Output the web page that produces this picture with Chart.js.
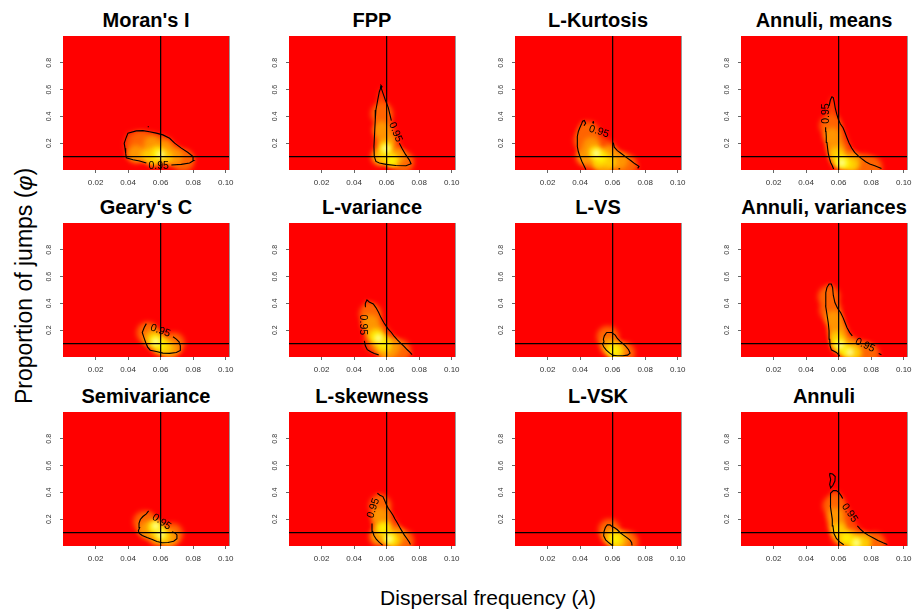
<!DOCTYPE html>
<html><head><meta charset="utf-8">
<script src="https://cdn.jsdelivr.net/npm/chart.js@4.4.0/dist/chart.umd.min.js"></script>
<style>
html,body{margin:0;padding:0;background:#fff;}
body{width:915px;height:616px;position:relative;overflow:hidden;font-family:"Liberation Sans",Arial,Helvetica,sans-serif;color:#000;}
canvas{position:absolute;}
.ttl{position:absolute;font-weight:bold;font-size:20px;line-height:20px;white-space:nowrap;transform:translateX(-50%);}
#ylab{position:absolute;left:24px;top:286px;transform:translate(-50%,-50%) rotate(-90deg);font-size:23px;line-height:26px;white-space:nowrap;}
#xlab{position:absolute;left:488px;top:598px;transform:translate(-50%,-50%);font-size:21px;line-height:26px;white-space:nowrap;}
</style></head><body>
<div id="ylab">Proportion of jumps (<i>φ</i>)</div>
<div id="xlab">Dispersal frequency (<i>λ</i>)</div>
<script>
// ---------- data ----------
const TITLES = ["Moran's I","FPP","L-Kurtosis","Annuli, means","Geary's C","L-variance","L-VS","Annuli, variances","Semivariance","L-skewness","L-VSK","Annuli"];
const X_TICKS = [0.02,0.04,0.06,0.08,0.10];
const Y_TICKS = [0.2,0.4,0.6,0.8];
const X_RANGE = [0,0.102];
const Y_RANGE = [0,1];
const TRUE_LAMBDA = 0.06;
const TRUE_PHI = 0.1;
const CONTOUR_LEVEL = "0.95";

// contour segments [x, y] (0.95 level), label anchors [x, y], heat spots [x, y, level]
const MORAN_CONTOUR = [[[0.0666,0.037],[0.0727,0.042],[0.0778,0.052],[0.0803,0.071],[0.0799,0.101],[0.0768,0.131],[0.0727,0.163],[0.0686,0.200],[0.0655,0.237],[0.0614,0.262],[0.0573,0.275],[0.0532,0.285],[0.0491,0.294],[0.0450,0.292],[0.0399,0.275],[0.0389,0.245],[0.0376,0.200],[0.0381,0.163],[0.0385,0.126],[0.0389,0.091],[0.0430,0.076],[0.0471,0.067],[0.0512,0.052]]];
const MORAN_EXTRA = [[[0.0521,0.322],[0.0527,0.324]]];
const MORAN_LABEL = [0.0588,0.031];
const MORAN_HEAT = [[0.048,0.20,1],[0.045,0.12,2],[0.055,0.19,2],[0.068,0.10,2],[0.062,0.16,2],[0.074,0.07,1],[0.052,0.11,3],[0.058,0.13,3],[0.063,0.10,3],[0.056,0.08,3],[0.058,0.12,4],[0.060,0.115,5]];

const FPP_CONTOUR = [[[0.0629,0.369],[0.0610,0.466],[0.0592,0.522],[0.0580,0.564],[0.0571,0.596],[0.0565,0.617],[0.0555,0.584],[0.0545,0.522],[0.0534,0.448],[0.0530,0.374],[0.0526,0.275],[0.0522,0.175],[0.0524,0.101],[0.0534,0.064],[0.0555,0.052],[0.0596,0.042],[0.0657,0.034],[0.0719,0.032],[0.0750,0.047],[0.0739,0.076],[0.0715,0.118],[0.0694,0.163],[0.0678,0.200]]];
const FPP_EXTRA = [[[0.0560,0.620],[0.0565,0.632],[0.0572,0.622],[0.0566,0.612],[0.0560,0.620]]];
const FPP_LABEL = [0.0655,0.282];
const FPP_HEAT = [[0.057,0.42,1],[0.057,0.30,2],[0.060,0.22,2],[0.066,0.10,2],[0.056,0.10,2],[0.070,0.06,1],[0.0595,0.17,3],[0.063,0.08,3],[0.058,0.10,3],[0.0595,0.15,4],[0.063,0.07,4],[0.0595,0.16,5]];

const KURT_CONTOUR = [
 [[0.0436,0.002],[0.0424,0.032],[0.0411,0.064],[0.0399,0.101],[0.0389,0.138],[0.0383,0.175],[0.0385,0.213],[0.0381,0.250],[0.0389,0.287],[0.0399,0.317],[0.0409,0.344],[0.0415,0.364],[0.0426,0.369],[0.0434,0.349],[0.0424,0.330]],
 [[0.0604,0.205],[0.0610,0.170],[0.0629,0.145],[0.0655,0.121],[0.0682,0.096],[0.0711,0.071],[0.0737,0.046],[0.0762,0.027],[0.0754,0.012]]];
const KURT_EXTRA = [[[0.0476,0.355],[0.0486,0.355]],[[0.0481,0.345],[0.0481,0.365]],[[0.0636,0.009],[0.0646,0.009]]];
const KURT_LABEL = [0.0516,0.287];
const KURT_HEAT = [[0.043,0.22,1],[0.045,0.28,1],[0.047,0.18,2],[0.043,0.10,2],[0.058,0.12,2],[0.064,0.07,2],[0.068,0.04,1],[0.055,0.03,2],[0.049,0.13,3],[0.054,0.10,3],[0.051,0.06,3],[0.058,0.06,3],[0.050,0.12,4],[0.053,0.09,4],[0.050,0.125,5]];

const AMEANS_CONTOUR = [
 [[0.0569,0.007],[0.0561,0.032],[0.0551,0.056],[0.0543,0.088],[0.0536,0.126],[0.0532,0.163],[0.0528,0.205],[0.0524,0.250],[0.0522,0.287],[0.0520,0.319]],
 [[0.0541,0.477],[0.0549,0.522],[0.0559,0.546],[0.0567,0.541],[0.0573,0.506],[0.0579,0.464],[0.0588,0.419],[0.0598,0.379],[0.0610,0.345],[0.0627,0.315],[0.0639,0.280],[0.0651,0.241],[0.0664,0.201],[0.0680,0.164],[0.0698,0.132],[0.0719,0.107],[0.0739,0.087],[0.0766,0.062],[0.0791,0.045],[0.0822,0.031],[0.0848,0.019],[0.0863,0.012]]];
const AMEANS_EXTRA = [];
const AMEANS_LABEL = [0.0526,0.421];
const AMEANS_HEAT = [[0.055,0.33,1],[0.056,0.25,2],[0.058,0.17,2],[0.060,0.10,2],[0.068,0.07,2],[0.075,0.04,1],[0.080,0.02,1],[0.059,0.12,3],[0.062,0.06,3],[0.068,0.04,3],[0.061,0.07,4],[0.064,0.05,4],[0.062,0.055,5]];

const GEARY_CONTOUR = [[[0.0676,0.151],[0.0696,0.133],[0.0713,0.113],[0.0721,0.083],[0.0721,0.049],[0.0696,0.034],[0.0655,0.027],[0.0614,0.029],[0.0573,0.041],[0.0536,0.051],[0.0520,0.074],[0.0508,0.108],[0.0497,0.146],[0.0487,0.183],[0.0499,0.220],[0.0512,0.249]]];
const GEARY_EXTRA = [];
const GEARY_LABEL = [0.0598,0.195];
const GEARY_HEAT = [[0.052,0.18,1],[0.055,0.14,2],[0.060,0.08,2],[0.066,0.06,2],[0.068,0.10,1],[0.056,0.13,3],[0.060,0.10,3],[0.063,0.07,3],[0.057,0.12,4],[0.060,0.09,4],[0.057,0.115,5]];

const LVAR_CONTOUR = [
 [[0.0551,0.016],[0.0524,0.026],[0.0502,0.039],[0.0481,0.055],[0.0469,0.083],[0.0463,0.121]],
 [[0.0467,0.376],[0.0469,0.401],[0.0479,0.426],[0.0493,0.411],[0.0518,0.396],[0.0534,0.369],[0.0551,0.332],[0.0565,0.294],[0.0582,0.257],[0.0596,0.232],[0.0610,0.208],[0.0629,0.183],[0.0647,0.153],[0.0666,0.128],[0.0686,0.104],[0.0707,0.079],[0.0727,0.054],[0.0744,0.034],[0.0756,0.017]]];
const LVAR_EXTRA = [];
const LVAR_LABEL = [0.0456,0.240];
const LVAR_HEAT = [[0.050,0.32,1],[0.050,0.25,2],[0.053,0.18,2],[0.056,0.10,2],[0.063,0.08,2],[0.068,0.05,1],[0.060,0.04,2],[0.053,0.16,3],[0.057,0.12,3],[0.059,0.08,3],[0.054,0.15,4],[0.058,0.10,4],[0.055,0.14,5]];

const LVS_CONTOUR = [[[0.0563,0.183],[0.0594,0.183],[0.0616,0.163],[0.0629,0.138],[0.0645,0.118],[0.0662,0.101],[0.0680,0.081],[0.0698,0.054],[0.0707,0.029],[0.0692,0.014],[0.0662,0.009],[0.0629,0.009],[0.0604,0.012],[0.0582,0.029],[0.0561,0.051],[0.0545,0.076],[0.0538,0.096],[0.0547,0.113],[0.0543,0.133],[0.0549,0.158],[0.0563,0.183]]];
const LVS_EXTRA = [];
const LVS_LABEL = null;
const LVS_HEAT = [[0.057,0.15,1],[0.058,0.08,2],[0.063,0.05,2],[0.067,0.03,1],[0.060,0.06,3],[0.062,0.04,3],[0.061,0.05,4]];

const AVAR_CONTOUR = [
 [[0.0606,0.009],[0.0586,0.034],[0.0555,0.054],[0.0547,0.084],[0.0545,0.133],[0.0541,0.195],[0.0536,0.257],[0.0528,0.319],[0.0520,0.381],[0.0522,0.431],[0.0520,0.481],[0.0528,0.518],[0.0541,0.545],[0.0555,0.545],[0.0563,0.518],[0.0567,0.461],[0.0577,0.406],[0.0594,0.362],[0.0612,0.332],[0.0627,0.294],[0.0639,0.257],[0.0651,0.220],[0.0668,0.182],[0.0684,0.158]],
 [[0.0846,0.026],[0.0863,0.016]]];
const AVAR_EXTRA = [];
const AVAR_LABEL = [0.0762,0.088];
const AVAR_HEAT = [[0.054,0.45,1],[0.055,0.35,1],[0.057,0.28,2],[0.059,0.20,2],[0.061,0.12,2],[0.067,0.07,2],[0.074,0.04,1],[0.078,0.02,1],[0.059,0.14,3],[0.061,0.08,3],[0.066,0.04,3],[0.070,0.03,3],[0.060,0.10,4],[0.064,0.05,4],[0.061,0.09,5],[0.067,0.035,5]];

const SEMI_CONTOUR = [[[0.0670,0.106],[0.0688,0.098],[0.0700,0.083],[0.0700,0.055],[0.0680,0.036],[0.0645,0.026],[0.0610,0.024],[0.0577,0.034],[0.0549,0.049],[0.0516,0.064],[0.0487,0.079],[0.0469,0.094],[0.0463,0.113],[0.0471,0.138],[0.0467,0.170],[0.0475,0.198],[0.0491,0.220],[0.0512,0.240],[0.0526,0.262]]];
const SEMI_EXTRA = [];
const SEMI_LABEL = [0.0606,0.180];
const SEMI_HEAT = [[0.050,0.18,1],[0.052,0.12,2],[0.058,0.07,2],[0.065,0.06,2],[0.067,0.09,1],[0.056,0.14,3],[0.059,0.10,3],[0.062,0.07,3],[0.057,0.14,4],[0.060,0.09,4],[0.057,0.15,5],[0.060,0.085,5]];

const LSKEW_CONTOUR = [
 [[0.0575,0.007],[0.0555,0.027],[0.0536,0.051],[0.0522,0.079],[0.0514,0.109],[0.0510,0.138],[0.0510,0.168]],
 [[0.0543,0.394],[0.0559,0.379],[0.0577,0.369],[0.0588,0.340],[0.0598,0.310],[0.0610,0.281],[0.0625,0.256],[0.0639,0.229],[0.0651,0.202],[0.0666,0.172],[0.0680,0.140],[0.0694,0.111],[0.0709,0.081],[0.0725,0.054],[0.0739,0.029],[0.0746,0.012]]];
const LSKEW_EXTRA = [];
const LSKEW_LABEL = [0.0518,0.282];
const LSKEW_HEAT = [[0.056,0.30,1],[0.056,0.22,2],[0.058,0.14,2],[0.055,0.07,2],[0.066,0.08,2],[0.070,0.04,1],[0.058,0.13,3],[0.061,0.07,3],[0.064,0.04,3],[0.058,0.13,4],[0.062,0.055,4],[0.0615,0.055,5]];

const LVSK_CONTOUR = [[[0.0600,0.002],[0.0579,0.022],[0.0557,0.046],[0.0545,0.076],[0.0547,0.108],[0.0555,0.138],[0.0567,0.158],[0.0584,0.158],[0.0596,0.146],[0.0612,0.136],[0.0629,0.121],[0.0645,0.101],[0.0666,0.081],[0.0690,0.061],[0.0707,0.044],[0.0717,0.024],[0.0719,0.004]]];
const LVSK_EXTRA = [];
const LVSK_LABEL = null;
const LVSK_HEAT = [[0.058,0.12,1],[0.059,0.07,2],[0.065,0.05,2],[0.069,0.03,1],[0.061,0.06,3],[0.063,0.04,3],[0.0615,0.055,4]];

const ANN_CONTOUR = [
 [[0.0631,0.009],[0.0606,0.031],[0.0586,0.056],[0.0571,0.093],[0.0565,0.150],[0.0561,0.199],[0.0555,0.249],[0.0549,0.298],[0.0547,0.353],[0.0553,0.393],[0.0567,0.413],[0.0586,0.413],[0.0602,0.398],[0.0616,0.374],[0.0625,0.354]],
 [[0.0715,0.150],[0.0733,0.126],[0.0754,0.103],[0.0781,0.081],[0.0811,0.061],[0.0842,0.041],[0.0873,0.024],[0.0899,0.012]]];
const ANN_EXTRA = [[[0.0545,0.542],[0.0563,0.537],[0.0579,0.518],[0.0577,0.485],[0.0565,0.453],[0.0551,0.433],[0.0545,0.460],[0.0551,0.497],[0.0545,0.527],[0.0545,0.542]]];
const ANN_LABEL = [0.0668,0.247];
const ANN_HEAT = [[0.057,0.30,1],[0.058,0.22,2],[0.059,0.15,2],[0.061,0.08,2],[0.067,0.06,2],[0.075,0.04,2],[0.082,0.02,1],[0.060,0.12,3],[0.064,0.06,3],[0.070,0.03,3],[0.075,0.02,3],[0.065,0.06,4],[0.070,0.025,4],[0.071,0.025,5]];

// ---------- presentation ----------
const FONT = '"Liberation Sans", Arial, Helvetica, sans-serif';
const PANELS = [
 {contour:MORAN_CONTOUR, extra:MORAN_EXTRA, label:MORAN_LABEL, heat:MORAN_HEAT, angle:0},
 {contour:FPP_CONTOUR, extra:FPP_EXTRA, label:FPP_LABEL, heat:FPP_HEAT, angle:68},
 {contour:KURT_CONTOUR, extra:KURT_EXTRA, label:KURT_LABEL, heat:KURT_HEAT, angle:18},
 {contour:AMEANS_CONTOUR, extra:AMEANS_EXTRA, label:AMEANS_LABEL, heat:AMEANS_HEAT, angle:-90},
 {contour:GEARY_CONTOUR, extra:GEARY_EXTRA, label:GEARY_LABEL, heat:GEARY_HEAT, angle:20},
 {contour:LVAR_CONTOUR, extra:LVAR_EXTRA, label:LVAR_LABEL, heat:LVAR_HEAT, angle:90},
 {contour:LVS_CONTOUR, extra:LVS_EXTRA, label:LVS_LABEL, heat:LVS_HEAT, angle:0},
 {contour:AVAR_CONTOUR, extra:AVAR_EXTRA, label:AVAR_LABEL, heat:AVAR_HEAT, angle:25},
 {contour:SEMI_CONTOUR, extra:SEMI_EXTRA, label:SEMI_LABEL, heat:SEMI_HEAT, angle:35},
 {contour:LSKEW_CONTOUR, extra:LSKEW_EXTRA, label:LSKEW_LABEL, heat:LSKEW_HEAT, angle:-72},
 {contour:LVSK_CONTOUR, extra:LVSK_EXTRA, label:LVSK_LABEL, heat:LVSK_HEAT, angle:0},
 {contour:ANN_CONTOUR, extra:ANN_EXTRA, label:ANN_LABEL, heat:ANN_HEAT, angle:55}
];
const COL_LEFT = [63,289,515,741];
const ROW_TOP = [36,223,412];
const PW = 166, PH = 134, YW = 35, XH = 25, PADT = 14, PADR = 14;
const HEAT_COLORS = {1:'#FF6400',2:'#FF9600',3:'#FFCC00',4:'#FFF200',5:'#FFFFA6'};
const HEAT_RADIUS = {1:11,2:9,3:7,4:5.5,5:3.5};

function heatPlugin(panel){
  return {id:'heatLayer', beforeDatasetsDraw(chart){
    const {ctx, chartArea:a, scales:{x, y}} = chart;
    ctx.save();
    ctx.beginPath(); ctx.rect(a.left, a.top, a.width, a.height); ctx.clip();
    ctx.fillStyle = '#FF0000'; ctx.fillRect(a.left, a.top, a.width, a.height);
    ctx.filter = 'blur(2.5px)';
    const region = panel.contour.flat();
    ctx.beginPath();
    region.forEach((p, i) => {
      const px = x.getPixelForValue(p[0]), py = y.getPixelForValue(p[1]);
      if (i) ctx.lineTo(px, py); else ctx.moveTo(px, py);
    });
    ctx.closePath(); ctx.fillStyle = '#FF4800'; ctx.fill();
    panel.heat.slice().sort((m, n) => m[2] - n[2]).forEach(([vx, vy, l]) => {
      ctx.beginPath();
      ctx.arc(x.getPixelForValue(vx), y.getPixelForValue(vy), HEAT_RADIUS[l], 0, Math.PI * 2);
      ctx.fillStyle = HEAT_COLORS[l]; ctx.fill();
    });
    ctx.restore();
    // thin grey right edge of the plotting region
    ctx.save(); ctx.strokeStyle = '#9a9a9a'; ctx.lineWidth = 1;
    ctx.beginPath(); ctx.moveTo(a.right + 0.5, a.top); ctx.lineTo(a.right + 0.5, a.bottom); ctx.stroke();
    ctx.restore();
  }};
}
function labelPlugin(panel){
  return {id:'contourLabel', afterDatasetsDraw(chart){
    if (!panel.label) return;
    const {ctx, scales:{x, y}} = chart;
    ctx.save();
    ctx.translate(x.getPixelForValue(panel.label[0]), y.getPixelForValue(panel.label[1]));
    ctx.rotate(panel.angle * Math.PI / 180);
    ctx.font = '10.5px ' + FONT; ctx.fillStyle = '#000';
    ctx.textAlign = 'center'; ctx.textBaseline = 'middle';
    ctx.fillText(CONTOUR_LEVEL, 0, 0);
    ctx.restore();
  }};
}
const seg = (pts, w) => ({data: pts.map(([x, y]) => ({x, y})), showLine: true, borderColor: '#000', borderWidth: w, pointRadius: 0, fill: false, tension: 0});

PANELS.forEach((panel, i) => {
  const c = i % 4, r = Math.floor(i / 4);
  const L = COL_LEFT[c], T = ROW_TOP[r];
  const t = document.createElement('div');
  t.className = 'ttl'; t.textContent = TITLES[i];
  t.style.left = (L + PW / 2) + 'px'; t.style.top = (T - 26) + 'px';
  document.body.appendChild(t);
  const cv = document.createElement('canvas');
  const W = YW + PW + PADR, H = PADT + PH + XH;
  cv.width = W; cv.height = H;
  cv.style.left = (L - YW) + 'px'; cv.style.top = (T - PADT) + 'px';
  cv.style.width = W + 'px'; cv.style.height = H + 'px';
  document.body.appendChild(cv);
  const datasets = [
    ...panel.contour.map(s => seg(s, 1.1)),
    ...panel.extra.map(s => seg(s, 1.1)),
    seg([[TRUE_LAMBDA, Y_RANGE[0]], [TRUE_LAMBDA, Y_RANGE[1]]], 1.2),
    seg([[X_RANGE[0], TRUE_PHI], [X_RANGE[1], TRUE_PHI]], 1.2)
  ];
  new Chart(cv, {
    type: 'scatter',
    data: {datasets},
    plugins: [heatPlugin(panel), labelPlugin(panel)],
    options: {
      responsive: false, animation: false, events: [], devicePixelRatio: 1,
      layout: {padding: {left: 0, right: PADR, top: PADT, bottom: 0}},
      plugins: {legend: {display: false}, tooltip: {enabled: false}, title: {display: false}},
      scales: {
        x: {type: 'linear', min: X_RANGE[0], max: X_RANGE[1],
          afterBuildTicks: s => { s.ticks = X_TICKS.map(v => ({value: v})); },
          afterFit: s => { s.height = XH; },
          ticks: {callback: v => Number(v).toFixed(2), font: {size: 8, family: FONT}, color: '#333', padding: 5, autoSkip: false, minRotation: 0, maxRotation: 0},
          grid: {drawOnChartArea: false, drawTicks: true, tickLength: 3, color: '#666'},
          border: {display: false}},
        y: {type: 'linear', min: Y_RANGE[0], max: Y_RANGE[1],
          afterBuildTicks: s => { s.ticks = Y_TICKS.map(v => ({value: v})); },
          afterFit: s => { s.width = YW; },
          ticks: {callback: v => Number(v).toFixed(1), font: {size: 7, family: FONT}, color: '#333', padding: 6, minRotation: 90, maxRotation: 90, crossAlign: 'center'},
          grid: {drawOnChartArea: false, drawTicks: true, tickLength: 3, color: '#666'},
          border: {display: false}}
      }
    }
  });
});
</script>
</body></html>
